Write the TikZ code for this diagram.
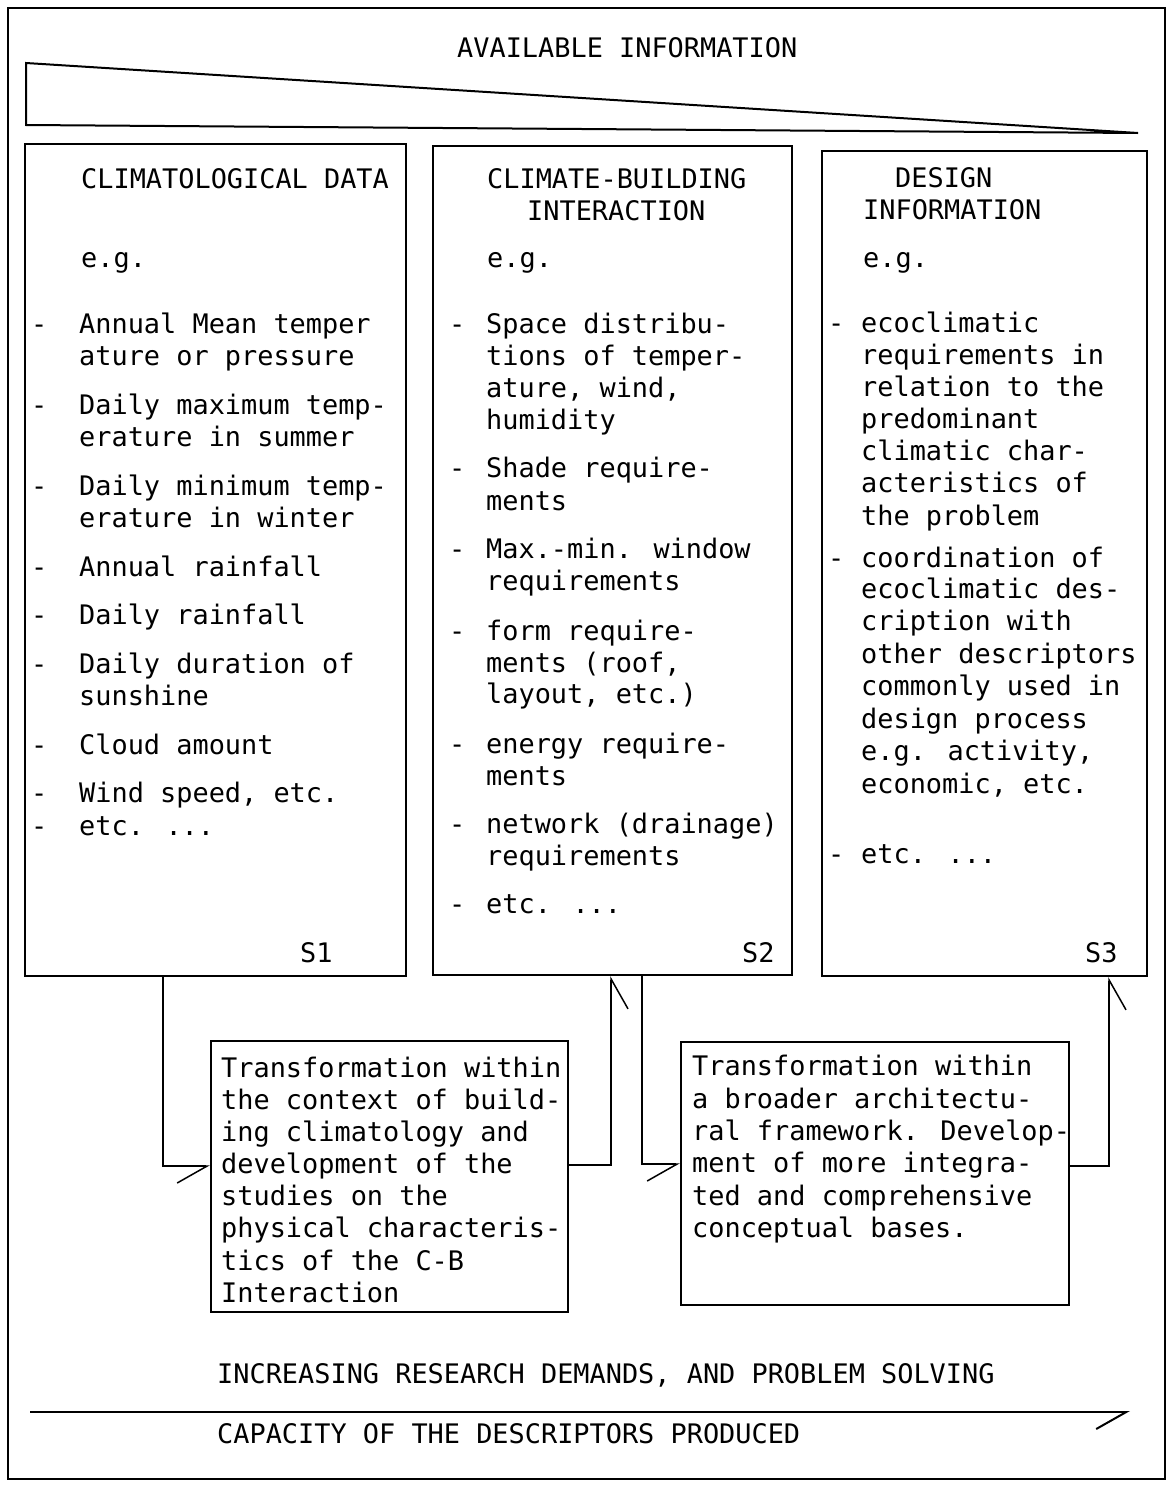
\documentclass[tikz,border=0pt]{standalone}
\usepackage{fontspec}
\usetikzlibrary{arrows.meta}
\newfontfamily\typew{DejaVu Sans Mono}
\begin{document}
\begin{tikzpicture}[x=1pt,y=-1pt,
  txt/.style={anchor=base west,inner sep=0pt,font=\typew\fontsize{26.9}{32.3}\selectfont},
  panel/.style={draw,line width=2pt,inner sep=0pt},
  conn/.style={line width=1.5pt,-{Straight Barb[harpoon,swap,length=30pt,width=34pt]}},
  outline/.style={line width=2pt}]
\useasboundingbox (0,0) rectangle (1174,1486);

% outer frame
\draw[outline] (8,8) rectangle (1165,1479);

% heading and the narrowing wedge under it
\node[txt] (avail) at (457,57) {AVAILABLE INFORMATION};
\draw[outline,line join=miter] (26,63) -- (1138,133) -- (26,125) -- cycle;

% three columns
\node[panel,minimum width=381pt,minimum height=832pt,anchor=north west] (s1) at (24,143) {};
\node[panel,minimum width=359pt,minimum height=829pt,anchor=north west] (s2) at (432,145) {};
\node[panel,minimum width=325pt,minimum height=825pt,anchor=north west] (s3) at (821,150) {};

% column 1: climatological data
\node[txt] (s1head) at (81,188) {CLIMATOLOGICAL DATA};
\node[txt] (s1eg) at (81,267) {e.g.};
\foreach \ypos/\ltext [count=\i] in {333/{Annual Mean temper},365/{ature or pressure},
  414/{Daily maximum temp-},446/{erature in summer},495/{Daily minimum temp-},
  527/{erature in winter},576/{Annual rainfall},624/{Daily rainfall},
  673/{Daily duration of},705/{sunshine},754/{Cloud amount},802/{Wind speed, etc.},
  835/{etc. ...}}
  \node[txt] (s1line\i) at (79,\ypos) {\ltext};
\foreach \ypos [count=\i] in {333,414,495,576,624,673,754,802,835}
  \node[txt] (s1dash\i) at (31,\ypos) {-};
\node[txt] (s1tag) at (300,962) {S1};

% column 2: climate-building interaction
\node[txt] (s2head) at (487,188) {CLIMATE-BUILDING};
\node[txt] (s2headb) at (527,220) {INTERACTION};
\node[txt] (s2eg) at (487,267) {e.g.};
\foreach \ypos/\ltext [count=\i] in {333/{Space distribu-},365/{tions of temper-},
  397/{ature, wind,},429/{humidity},477/{Shade require-},510/{ments},
  558/{Max.-min. window},590/{requirements},640/{form require-},
  672/{ments (roof,},703/{layout, etc.)},753/{energy require-},785/{ments},
  833/{network (drainage)},865/{requirements},913/{etc. ...}}
  \node[txt] (s2line\i) at (486,\ypos) {\ltext};
\foreach \ypos [count=\i] in {333,477,558,640,753,833,913}
  \node[txt] (s2dash\i) at (449,\ypos) {-};
\node[txt] (s2tag) at (742,962) {S2};

% column 3: design information
\node[txt] (s3head) at (895,187) {DESIGN};
\node[txt] (s3headb) at (863,219) {INFORMATION};
\node[txt] (s3eg) at (863,267) {e.g.};
\foreach \ypos/\ltext [count=\i] in {332/{ecoclimatic},364/{requirements in},
  396/{relation to the},428/{predominant},460/{climatic char-},
  492/{acteristics of},525/{the problem},567/{coordination of},
  598/{ecoclimatic des-},630/{cription with},663/{other descriptors},
  695/{commonly used in},728/{design process},760/{e.g. activity,},
  793/{economic, etc.},863/{etc. ...}}
  \node[txt] (s3line\i) at (861,\ypos) {\ltext};
\foreach \ypos [count=\i] in {332,567,863}
  \node[txt] (s3dash\i) at (828,\ypos) {-};
\node[txt] (s3tag) at (1085,962) {S3};

% transformation boxes
\node[panel,minimum width=357pt,minimum height=271pt,anchor=north west] (t1) at (210,1040) {};
\foreach \ypos/\ltext [count=\i] in {1077/{Transformation within},1109/{the context of build-},
  1141/{ing climatology and},1173/{development of the},1205/{studies on the},
  1237/{physical characteris-},1270/{tics of the C-B},1302/{Interaction}}
  \node[txt] (t1line\i) at (221,\ypos) {\ltext};

\node[panel,minimum width=388pt,minimum height=263pt,anchor=north west] (t2) at (680,1041) {};
\foreach \ypos/\ltext [count=\i] in {1075/{Transformation within},1108/{a broader architectu-},
  1140/{ral framework. Develop-},1172/{ment of more integra-},
  1205/{ted and comprehensive},1237/{conceptual bases.}}
  \node[txt] (t2line\i) at (692,\ypos) {\ltext};

% flow S1 -> T1 -> S2 -> T2 -> S3
\draw[conn] ([xshift=139pt]s1.south west) |- ([yshift=-126pt]t1.north west);
\draw[conn] ([yshift=-125pt]t1.north east) -| ([xshift=179pt]s2.south west);
\draw[conn] ([xshift=210pt]s2.south west) |- ([yshift=-123pt]t2.north west);
\draw[conn] ([yshift=-125pt]t2.north east) -| ([xshift=288pt]s3.south west);

% bottom scale
\node[txt] (demands) at (217,1383) {INCREASING RESEARCH DEMANDS, AND PROBLEM SOLVING};
\coordinate (scalestart) at (30,1412);
\coordinate (scaleend) at (1130,1412);
\draw[conn,line width=2pt] (scalestart) -- (scaleend);
\node[txt] (capacity) at (217,1443) {CAPACITY OF THE DESCRIPTORS PRODUCED};
\end{tikzpicture}
\end{document}
